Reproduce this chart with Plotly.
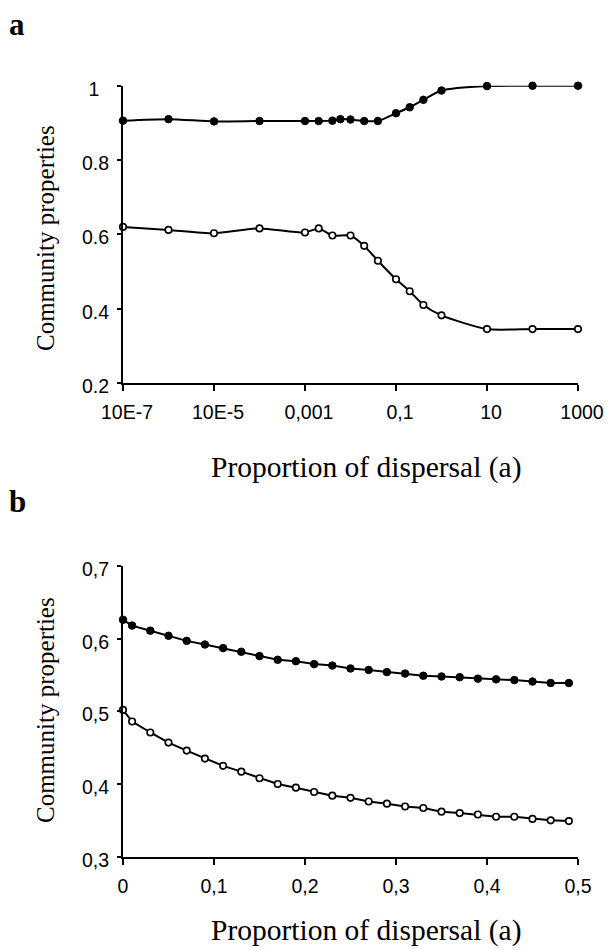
import plotly.graph_objects as go

# ---------------- Panel a data ----------------
a_x_filled = [1e-7, 1e-6, 1e-5, 1e-4, 1e-3, 0.002, 0.004, 0.006, 0.01, 0.02, 0.04,
              0.1, 0.2, 0.4, 1, 10, 100, 1000]
a_y_filled = [0.906, 0.910, 0.904, 0.905, 0.905, 0.905, 0.906, 0.910, 0.909, 0.905, 0.905,
              0.926, 0.942, 0.962, 0.987, 0.999, 1.000, 1.000]

a_x_open = [1e-7, 1e-6, 1e-5, 1e-4, 1e-3, 0.002, 0.004, 0.01, 0.02, 0.04,
            0.1, 0.2, 0.4, 1, 10, 100, 1000]
a_y_open = [0.620, 0.612, 0.603, 0.616, 0.605, 0.616, 0.597, 0.597, 0.569, 0.529,
            0.479, 0.447, 0.410, 0.382, 0.345, 0.345, 0.345]

a_tickvals = [1e-7, 1e-5, 1e-3, 0.1, 10, 1000]
a_ticktext = ["10E-7", "10E-5", "0,001", "0,1", "10", "1000"]
a_ytickvals = [0.2, 0.4, 0.6, 0.8, 1.0]
a_yticktext = ["0.2", "0.4", "0.6", "0.8", "1\u2002"]

# ---------------- Panel b data ----------------
b_x = [0, 0.01, 0.03, 0.05, 0.07, 0.09, 0.11, 0.13, 0.15, 0.17, 0.19, 0.21, 0.23,
       0.25, 0.27, 0.29, 0.31, 0.33, 0.35, 0.37, 0.39, 0.41, 0.43, 0.45, 0.47, 0.49]
b_y_filled = [0.626, 0.618, 0.611, 0.604, 0.597, 0.592, 0.587, 0.582, 0.576, 0.571,
              0.569, 0.565, 0.563, 0.559, 0.557, 0.554, 0.552, 0.549, 0.548, 0.547,
              0.545, 0.544, 0.543, 0.541, 0.539, 0.539]
b_y_open = [0.502, 0.486, 0.471, 0.457, 0.446, 0.435, 0.425, 0.417, 0.408, 0.400,
            0.395, 0.389, 0.384, 0.381, 0.376, 0.373, 0.369, 0.367, 0.362, 0.360,
            0.358, 0.355, 0.355, 0.352, 0.350, 0.349]

b_tickvals = [0, 0.1, 0.2, 0.3, 0.4, 0.5]
b_ticktext = ["0", "0,1", "0,2", "0,3", "0,4", "0,5"]
b_ytickvals = [0.3, 0.4, 0.5, 0.6, 0.7]
b_yticktext = ["0,3", "0,4", "0,5", "0,6", "0,7"]

# ---------------- Figure ----------------
W, H = 610, 950
fig = go.Figure()

line_style = dict(color="black", width=2)
filled_marker = dict(symbol="circle", size=7.5, color="black", line=dict(color="black", width=1))
open_marker = dict(symbol="circle", size=6.5, color="white", line=dict(color="black", width=1.6))

fig.add_trace(go.Scatter(x=a_x_filled, y=a_y_filled, mode="lines+markers",
                         line=dict(**line_style, shape="spline", smoothing=0.6),
                         marker=filled_marker, cliponaxis=False,
                         xaxis="x", yaxis="y", showlegend=False))
fig.add_trace(go.Scatter(x=a_x_open, y=a_y_open, mode="lines+markers",
                         line=dict(**line_style, shape="spline", smoothing=0.6),
                         marker=open_marker, cliponaxis=False,
                         xaxis="x", yaxis="y", showlegend=False))
fig.add_trace(go.Scatter(x=b_x, y=b_y_filled, mode="lines+markers",
                         line=line_style, marker=filled_marker, cliponaxis=False,
                         xaxis="x2", yaxis="y2", showlegend=False))
fig.add_trace(go.Scatter(x=b_x, y=b_y_open, mode="lines+markers",
                         line=line_style, marker=open_marker, cliponaxis=False,
                         xaxis="x2", yaxis="y2", showlegend=False))

tick_font = dict(family="Liberation Sans, Arial, sans-serif", size=19.5, color="black")
axis_common = dict(showline=True, linecolor="black", linewidth=2, showgrid=False,
                   zeroline=False, ticks="outside", tickwidth=2, tickcolor="black",
                   tickfont=tick_font, mirror=False, automargin=False)

xdom = [123 / W, 578 / W]
ya_dom = [1 - 383 / H, 1 - 85.7 / H]
yb_dom = [1 - 856.7 / H, 1 - 566 / H]

fig.update_layout(
    template="none",
    width=W, height=H,
    margin=dict(l=0, r=0, t=0, b=0, pad=0, autoexpand=False),
    paper_bgcolor="white", plot_bgcolor="white",
    xaxis=dict(**axis_common, type="log", domain=xdom, range=[-7, 3],
               tickvals=a_tickvals, ticktext=a_ticktext, ticklen=6,
               anchor="y", ticklabelstandoff=5, ticklabelshift=4),
    yaxis=dict(**axis_common, domain=ya_dom, range=[0.2, 1.0],
               tickvals=a_ytickvals, ticktext=a_yticktext, ticklen=4,
               anchor="x", ticklabelstandoff=4, ticklabelshift=3),
    xaxis2=dict(**axis_common, domain=xdom, range=[0, 0.5],
                tickvals=b_tickvals, ticktext=b_ticktext, ticklen=6,
                anchor="y2", ticklabelstandoff=5),
    yaxis2=dict(**axis_common, domain=yb_dom, range=[0.3, 0.7],
                tickvals=b_ytickvals, ticktext=b_yticktext, ticklen=4,
                anchor="x2", ticklabelstandoff=4, ticklabelshift=3),
)

serif = "Liberation Serif, Times New Roman, serif"
title_font = dict(family=serif, size=29.5, color="black")
ytitle_font = dict(family=serif, size=25, color="black")
panel_font = dict(family=serif, size=31, color="black")

annotations = [
    dict(text="<b>a</b>", x=7 / W, y=1 - 24 / H, xanchor="left", yanchor="middle",
         font=panel_font),
    dict(text="<b>b</b>", x=7 / W, y=1 - 502 / H, xanchor="left", yanchor="middle",
         font=panel_font),
    dict(text="Community properties", x=45 / W, y=1 - 238 / H, textangle=-90,
         xanchor="center", yanchor="middle", font=ytitle_font),
    dict(text="Community properties", x=45 / W, y=1 - 710 / H, textangle=-90,
         xanchor="center", yanchor="middle", font=ytitle_font),
    dict(text="Proportion of dispersal (a)", x=366 / W, y=1 - 467 / H,
         xanchor="center", yanchor="middle", font=title_font),
    dict(text="Proportion of dispersal (a)", x=366 / W, y=1 - 930 / H,
         xanchor="center", yanchor="middle", font=title_font),
]
for a in annotations:
    a.update(xref="paper", yref="paper", showarrow=False)
fig.update_layout(annotations=annotations)

page_fix = ("document.body.style.margin='0';document.body.style.padding='0';"
            "document.documentElement.style.overflow='hidden';"
            "document.body.style.overflow='hidden';")
fig.write_html("out.html", post_script=page_fix,
               config={"displayModeBar": False, "staticPlot": True})
